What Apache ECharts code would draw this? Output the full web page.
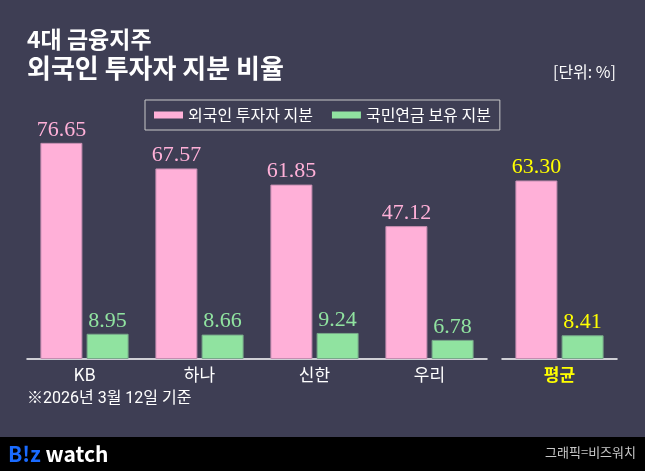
<!DOCTYPE html>
<html>
<head>
<meta charset="utf-8">
<script src="https://cdn.jsdelivr.net/npm/echarts@6/dist/echarts.min.js"></script>
<style>
html,body{margin:0;padding:0;background:#3e3e54;}
#c{width:645px;height:471px;}
</style>
</head>
<body>
<div id="c"></div>
<script>
const categories = ['KB', '하나', '신한', '우리'];
const avgCategory = ['평균'];
const foreignShare = [76.65, 67.57, 61.85, 47.12];
const npsShare = [8.95, 8.66, 9.24, 6.78];
const avgForeignShare = [63.30];
const avgNpsShare = [8.41];
const seriesNames = ['외국인 투자자 지분', '국민연금 보유 지분'];

const PINK = '#ffb0d8', GREEN = '#90e3a0', YELLOW = '#ffff00';
const SANS = "'Noto Sans CJK KR', 'Noto Sans', sans-serif";
const NOTE = "Roboto, 'Noto Sans CJK KR', sans-serif";
const SERIF = "'Liberation Serif', serif";

function labelCfg(color) {
  return {
    show: true, position: 'top', distance: 2,
    color: color, fontFamily: SERIF, fontSize: 22,
    formatter: p => Number(p.value).toFixed(2)
  };
}
function barSeries(name, data, color, idx, lblColor, border) {
  return {
    name: name, type: 'bar', xAxisIndex: idx, yAxisIndex: idx,
    data: data, barWidth: 42, barGap: '10%',
    itemStyle: { color: color, borderColor: border, borderWidth: 1 },
    label: labelCfg(lblColor),
    emphasis: { disabled: true }, animation: false
  };
}
function xAxisCfg(data, idx, labelColor) {
  return {
    type: 'category', gridIndex: idx, data: data,
    axisLine: { show: true, lineStyle: { color: '#ffffff', width: 1.5 } },
    axisTick: { show: false },
    axisLabel: { color: labelColor, fontSize: 17, fontFamily: SANS, margin: 7,
                 fontWeight: labelColor === YELLOW ? 'bold' : 'normal' },
    splitLine: { show: false }
  };
}
function yAxisCfg(idx) {
  return { type: 'value', gridIndex: idx, min: 0, max: 100, show: false, splitLine: { show: false } };
}

const chart = echarts.init(document.getElementById('c'), null, { renderer: 'canvas' });
chart.setOption({
  backgroundColor: '#3e3e54',
  animation: false,
  title: [
    { text: '4대 금융지주', left: 27, top: 28, padding: 0,
      textStyle: { color: '#ffffff', fontSize: 23, fontWeight: 'bold', fontFamily: SANS } },
    { text: '외국인 투자자 지분 비율', left: 27, top: 55, padding: 0,
      textStyle: { color: '#ffffff', fontSize: 26, fontWeight: 'bold', fontFamily: SANS } },
    { text: '[단위: %]', right: 29, top: 64, padding: 0,
      textStyle: { color: '#ffffff', fontSize: 16, fontWeight: 'normal', fontFamily: SANS } },
    { text: '※2026년 3월 12일 기준', left: 27, top: 391, padding: 0,
      textStyle: { color: '#ffffff', fontSize: 16, fontWeight: 'normal', fontFamily: NOTE } }
  ],
  legend: {
    data: seriesNames, left: 145, top: 100, padding: [7, 9],
    borderColor: '#c8c8c8', borderWidth: 1, borderRadius: 0,
    icon: 'rect', itemWidth: 29, itemHeight: 7, itemGap: 19,
    itemStyle: { borderWidth: 0 },
    textStyle: { color: '#ffffff', fontSize: 16, fontFamily: SANS },
    selectedMode: false
  },
  grid: [
    { left: 27, width: 460, top: 77, bottom: 112 },
    { left: 502, width: 115, top: 77, bottom: 112 }
  ],
  xAxis: [xAxisCfg(categories, 0, '#ffffff'), xAxisCfg(avgCategory, 1, YELLOW)],
  yAxis: [yAxisCfg(0), yAxisCfg(1)],
  series: [
    barSeries(seriesNames[0], foreignShare, PINK, 0, PINK, '#c48db0'),
    barSeries(seriesNames[1], npsShare, GREEN, 0, GREEN, '#78a88a'),
    barSeries(seriesNames[0], avgForeignShare, PINK, 1, YELLOW, '#c48db0'),
    barSeries(seriesNames[1], avgNpsShare, GREEN, 1, YELLOW, '#78a88a')
  ],
  graphic: [
    { type: 'rect', left: 0, top: 437, z: 0, shape: { width: 645, height: 34 }, style: { fill: '#000000' } },
    { type: 'text', left: 8, top: 444, z: 10,
      style: { text: '{b|B!z} {w|watch}', font: 'bold 21px ' + SANS,
               rich: { b: { fill: '#1a6bff', fontSize: 21, fontWeight: 'bold', fontFamily: SANS },
                       w: { fill: '#ffffff', fontSize: 21, fontWeight: 'bold', fontFamily: SANS } } } },
    { type: 'text', right: 9, top: 446, z: 10,
      style: { text: '그래픽=비즈워치', fill: '#c8c8c8', font: '13px ' + SANS } }
  ]
});
</script>
</body>
</html>
